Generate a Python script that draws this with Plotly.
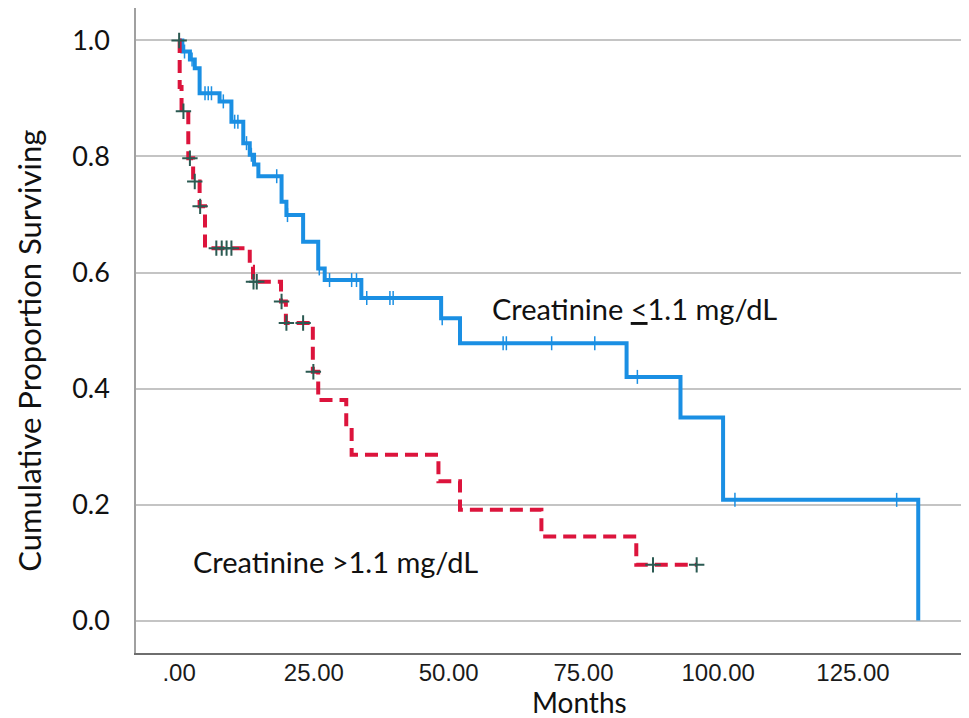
import numpy as np
import plotly.graph_objects as go

# Kaplan-Meier steps (months, cumulative survival after the step)
low_times = [0.6, 2.0, 2.9, 3.8, 7.5, 9.7, 11.9, 13.1, 13.9, 14.7, 19.0, 19.9,
             23.0, 25.8, 27.0, 33.8, 48.6, 52.1, 83.0, 93.0, 100.9, 137.1]
low_surv = [0.981, 0.967, 0.952, 0.909, 0.895, 0.860, 0.823, 0.803, 0.786, 0.766,
            0.722, 0.699, 0.653, 0.607, 0.587, 0.556, 0.521, 0.478, 0.420, 0.350,
            0.208, 0.0]
low_end = 137.1
low_censored = [1.0, 2.4, 4.8, 5.4, 6.0, 8.2, 10.3, 10.9, 12.5, 13.4, 18.1, 20.1,
                26.0, 27.9, 32.0, 32.9, 34.8, 39.1, 39.7, 48.8, 60.1, 60.7, 69.1,
                77.1, 85.0, 103.1, 133.1]

high_times = [0.1, 0.45, 1.7, 2.6, 3.8, 4.8, 13.1, 13.7, 18.9, 19.8, 24.8, 25.8,
              31.0, 32.0, 48.1, 52.1, 67.2, 84.8]
high_surv = [0.92, 0.878, 0.797, 0.757, 0.714, 0.642, 0.610, 0.584, 0.550, 0.513,
             0.429, 0.380, 0.334, 0.286, 0.240, 0.191, 0.145, 0.096]
high_end = 96.0
high_censored = [0.0, 0.8, 2.0, 2.9, 3.9, 6.9, 7.9, 8.8, 9.7, 13.8, 14.4, 19.0,
                 19.9, 23.0, 24.9, 87.9, 96.0]

x_ticks = [0, 25, 50, 75, 100, 125]
x_ticktext = [".00", "25.00", "50.00", "75.00", "100.00", "125.00"]
y_ticks = [0.0, 0.2, 0.4, 0.6, 0.8, 1.0]
y_ticktext = ["0.0", "0.2", "0.4", "0.6", "0.8", "1.0"]

BLUE = "#1a8fe3"
RED = "#dc143c"
MARK_DARK = "#2b5a52"
TEXT_FONT = "Lato"


def step_curve(times, surv, end):
    xs = [0.0] + list(times)
    ys = [1.0] + list(surv)
    if end > xs[-1]:
        xs.append(end)
        ys.append(ys[-1])
    return xs, ys


def surv_at(times, surv, t):
    t_arr = np.array(times)
    s_arr = np.array([1.0] + list(surv))
    idx = np.searchsorted(t_arr, t, side="right")
    return s_arr[idx]


fig = go.Figure()

lx, ly = step_curve(low_times, low_surv, low_end)
hx, hy = step_curve(high_times, high_surv, high_end)

fig.add_trace(go.Scatter(x=lx, y=ly, mode="lines", line_shape="hv",
                         line=dict(color=BLUE, width=4), showlegend=False))
fig.add_trace(go.Scatter(x=hx, y=hy, mode="lines", line_shape="hv",
                         line=dict(color=RED, width=4, dash="13px,7px"),
                         showlegend=False))

fig.add_trace(go.Scatter(
    x=low_censored, y=surv_at(low_times, low_surv, low_censored), mode="markers",
    marker=dict(symbol="line-ns", size=10, line=dict(color=BLUE, width=1.5)),
    showlegend=False))
fig.add_trace(go.Scatter(
    x=high_censored, y=surv_at(high_times, high_surv, high_censored), mode="markers",
    marker=dict(symbol="cross-thin", size=11, line=dict(color=MARK_DARK, width=2)),
    showlegend=False))

fig.add_annotation(x=57.6, y=0.538, xref="x", yref="y", xanchor="left", yanchor="middle",
                   text="Creatinine <u>&lt;</u>1.1 mg/dL", showarrow=False,
                   font=dict(family=TEXT_FONT, size=29, color="#111"))
fig.add_annotation(x=2.2, y=0.102, xref="x", yref="y", xanchor="left", yanchor="middle",
                   text="Creatinine &gt;1.1 mg/dL", showarrow=False,
                   font=dict(family=TEXT_FONT, size=29, color="#111"))

# axis titles placed as annotations to match the original spacing
fig.add_annotation(x=-0.127, y=0.469, xref="paper", yref="paper", textangle=-90,
                   xanchor="center", yanchor="middle",
                   text="Cumulative Proportion Surviving", showarrow=False,
                   font=dict(family=TEXT_FONT, size=31, color="#111"))
fig.add_annotation(x=0.5268, y=-0.046, xref="paper", yref="paper",
                   xanchor="center", yanchor="top",
                   text="Months", showarrow=False,
                   font=dict(family=TEXT_FONT, size=28, color="#111"))

fig.update_xaxes(range=[-8, 148], tickvals=x_ticks, ticktext=x_ticktext,
                 showgrid=False, zeroline=False, showline=True,
                 linecolor="#6e6e6e", linewidth=2, ticks="",
                 ticklabelstandoff=-3,
                 tickfont=dict(family="Liberation Sans", size=24, color="#1a1a1a"))
fig.update_yaxes(range=[-0.056, 1.056], tickvals=y_ticks, ticktext=y_ticktext,
                 showgrid=True, gridcolor="#c4c4c4", gridwidth=1.5, zeroline=False,
                 showline=True, linecolor="#a0a0a0", linewidth=1.5, ticks="",
                 ticklabelstandoff=19,
                 tickfont=dict(family=TEXT_FONT, size=27, color="#111"))

fig.update_layout(width=969, height=718, plot_bgcolor="white", paper_bgcolor="white",
                  margin=dict(l=128, r=0, t=0, b=73))

fig.write_html("out.html")
